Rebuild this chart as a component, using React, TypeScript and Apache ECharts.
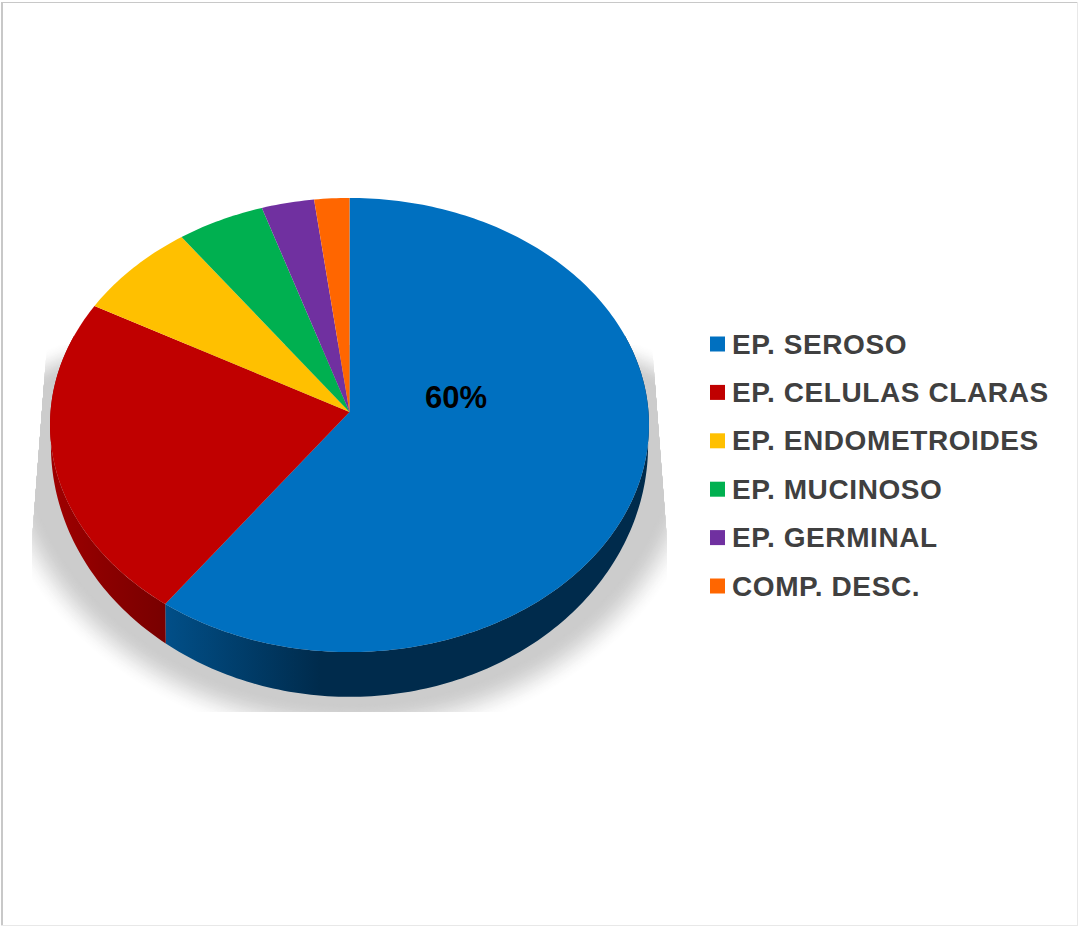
import React, { useEffect, useRef } from "react";
import * as echarts from "echarts";

// Tumour type shares, clockwise from twelve o'clock
const categories = [
  "EP. SEROSO",
  "EP. CELULAS CLARAS",
  "EP. ENDOMETROIDES",
  "EP. MUCINOSO",
  "EP. GERMINAL",
  "COMP. DESC.",
];
const shares = [60, 23, 7, 5, 3, 2];
const faceColors = ["#0070c0", "#c00000", "#ffc000", "#00b050", "#7030a0", "#ff6600"];
const labelledShares = ["60%", "", "", "", "", ""];

// Perspective projection of the pie disc onto the page
const CX = 349.5;
const TOP_APEX_Y = 412;
const BOTTOM_APEX_Y = 430.6;
const BOTTOM_SCALE_X = 0.997;
const BOTTOM_SCALE_Y = 1.109;
const RADIUS_X = 299;
const RADIUS_Y = 226.3;
const TILT = 0.0573;

const DEG = Math.PI / 180;

function project(theta: number, scaleX: number, scaleY: number, apexY: number): number[] {
  const u = Math.sin(theta);
  const v = Math.cos(theta);
  const d = 1 + TILT * v;
  return [CX + (RADIUS_X * scaleX * u) / d, apexY - (RADIUS_Y * scaleY * v) / d];
}

function sliceAngles(index: number): number[] {
  const total = shares.reduce((a, b) => a + b, 0);
  const before = shares.slice(0, index).reduce((a, b) => a + b, 0);
  return [(before / total) * 360 * DEG, ((before + shares[index]) / total) * 360 * DEG];
}

function arcPoints(from: number, to: number, scaleX: number, scaleY: number, apexY: number): number[][] {
  const steps = Math.max(2, Math.ceil(Math.abs(to - from) / (1 * DEG)));
  const pts: number[][] = [];
  for (let i = 0; i <= steps; i++) {
    pts.push(project(from + ((to - from) * i) / steps, scaleX, scaleY, apexY));
  }
  return pts;
}

// Soft ground shadow: stacked outlines going from near-white to the solid grey
function renderShadow() {
  const clip = [
    [47, 345],
    [32, 540],
    [32, 712],
    [667, 712],
    [667, 540],
    [652, 345],
  ];
  const layers = 30;
  const spread = 20;
  const children: any[] = [];
  for (let l = 0; l < layers; l++) {
    const f = l / (layers - 1);
    const t = spread * (1 - 2 * f);
    const eased = f * f * (3 - 2 * f);
    const c = Math.round(255 - (255 - 204) * eased);
    const pts: number[][] = [];
    for (let a = 0; a < 360; a += 2) {
      const cos = Math.cos(a * DEG);
      const sin = Math.sin(a * DEG);
      const ry = sin < 0 ? 97 : 310;
      pts.push([CX + (350 + t) * cos, 415 + (ry + t) * sin]);
    }
    children.push({
      type: "polygon",
      shape: { points: pts },
      style: { fill: `rgb(${c},${c},${c})` },
      silent: true,
    });
  }
  return {
    type: "group",
    children,
    clipPath: { type: "polygon", shape: { points: clip } },
  };
}

const wallFills: Record<number, any> = {
  0: new echarts.graphic.LinearGradient(0, 0, 1, 0, [
    { offset: 0, color: "#014f88" },
    { offset: 0.32, color: "#002b4c" },
    { offset: 1, color: "#002b4c" },
  ]),
  1: new echarts.graphic.LinearGradient(0, 0, 1, 0, [
    { offset: 0, color: "#a00000" },
    { offset: 0.45, color: "#8c0000" },
    { offset: 1, color: "#780000" },
  ]),
};

// Side wall for the slices facing the viewer
function renderWall(params: any) {
  const i = params.dataIndex;
  if (!wallFills[i]) return null;
  const [a0, a1] = sliceAngles(i);
  const from = Math.max(a0, 70 * DEG);
  const to = Math.min(a1, 290 * DEG);
  const pts = arcPoints(from, to, 1, 1, TOP_APEX_Y).concat(
    arcPoints(to, from, BOTTOM_SCALE_X, BOTTOM_SCALE_Y, BOTTOM_APEX_Y)
  );
  return {
    type: "polygon",
    shape: { points: pts },
    style: { fill: wallFills[i] },
  };
}

function renderFace(index: number) {
  return (params: any, api: any) => {
    const [a0, a1] = sliceAngles(index);
    const pts = [[CX, TOP_APEX_Y], ...arcPoints(a0, a1, 1, 1, TOP_APEX_Y)];
    const children: any[] = [
      {
        type: "polygon",
        shape: { points: pts },
        style: { fill: api.visual("color") },
      },
    ];
    if (labelledShares[index]) {
      children.push({
        type: "text",
        x: 456,
        y: 397,
        style: {
          text: labelledShares[index],
          fill: "#000000",
          font: 'bold 31px "Liberation Sans", Arial, sans-serif',
          align: "center",
          verticalAlign: "middle",
        },
      });
    }
    return { type: "group", children };
  };
}

export default function App() {
  const ref = useRef<HTMLDivElement>(null);

  useEffect(() => {
    const chart = echarts.init(ref.current!, null, { renderer: "svg" });
    chart.setOption({
      animation: false,
      backgroundColor: "#ffffff",
      graphic: [
        { type: "rect", shape: { x: 1, y: 2, width: 2, height: 924 }, style: { fill: "#c8c8c8" } },
        { type: "rect", shape: { x: 1, y: 2, width: 1077, height: 1 }, style: { fill: "#c8c8c8" } },
        { type: "rect", shape: { x: 1077, y: 2, width: 1, height: 924 }, style: { fill: "#e8e8e8" } },
        { type: "rect", shape: { x: 1, y: 925, width: 1077, height: 1 }, style: { fill: "#e8e8e8" } },
      ],
      legend: {
        orient: "vertical",
        left: 710,
        top: 330,
        padding: 0,
        itemWidth: 15,
        itemHeight: 15,
        itemGap: 20.4,
        icon: "rect",
        selectedMode: false,
        data: categories,
        textStyle: {
          color: "#404040",
          fontSize: 28,
          fontWeight: "bold",
          fontFamily: '"Liberation Sans", Arial, sans-serif',
          padding: [0, 0, 0, 2],
        },
      },
      series: [
        {
          type: "custom",
          name: "sombra",
          coordinateSystem: "none",
          silent: true,
          data: [0],
          renderItem: renderShadow,
        },
        {
          type: "custom",
          name: "pared",
          coordinateSystem: "none",
          silent: true,
          data: shares,
          renderItem: renderWall,
        },
        ...categories.map((name, i) => ({
          type: "custom",
          name,
          coordinateSystem: "none",
          silent: true,
          itemStyle: { color: faceColors[i] },
          data: [shares[i]],
          renderItem: renderFace(i),
        })),
      ],
    });
    return () => chart.dispose();
  }, []);

  return (
    <>
      <style>{`html,body{margin:0;padding:0;overflow:hidden}.pie-chart text[fill="#404040"]{letter-spacing:0.6px}`}</style>
      <div className="pie-chart" ref={ref} style={{ width: 1079, height: 926 }} />
    </>
  );
}
